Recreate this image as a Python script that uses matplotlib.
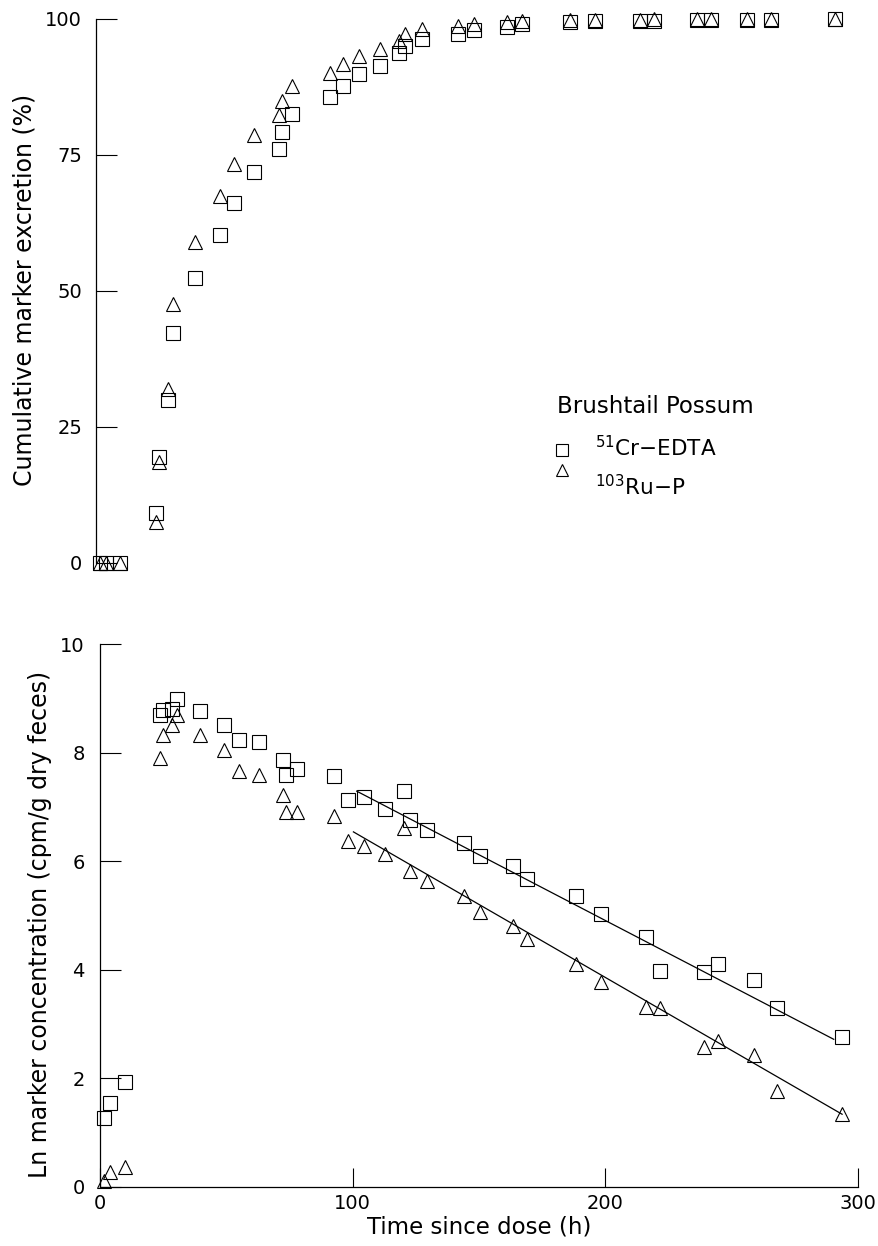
import matplotlib
matplotlib.use('Agg')
import matplotlib.pyplot as plt
import numpy as np

# sampling times (h since dose)
t = [1.7, 3.8, 9.7, 23.9, 24.9, 28.5, 30.4, 39.4, 49.2, 55.0, 62.9, 72.6, 73.8, 77.8,
     92.8, 98.1, 104.5, 112.8, 120.5, 122.6, 129.5, 143.9, 150.2, 163.4, 169.1, 188.4,
     198.2, 216.2, 221.8, 238.9, 244.4, 258.7, 268.1, 293.5]

# cumulative excretion (%)
cr_cum = [0, 0, 0, 9.2, 19.4, 30.0, 42.3, 52.4, 60.3, 66.2, 71.8, 76.1, 79.2, 82.6,
          85.7, 87.7, 89.8, 91.4, 93.7, 95.1, 96.3, 97.2, 97.9, 98.6, 99.0, 99.5,
          99.6, 99.7, 99.7, 99.8, 99.8, 99.9, 99.9, 100.0]
ru_cum = [0, 0, 0, 7.5, 18.5, 31.9, 47.7, 59.0, 67.5, 73.3, 78.7, 82.3, 84.9, 87.7,
          90.1, 91.8, 93.2, 94.4, 96.0, 97.2, 98.1, 98.8, 99.0, 99.5, 99.7, 99.8,
          99.9, 99.9, 100.0, 100.0, 100.0, 100.0, 100.0, 100.0]

# ln concentration (cpm/g dry feces)
cr_ln = [1.27, 1.55, 1.93, 8.70, 8.78, 8.80, 8.98, 8.76, 8.51, 8.23, 8.19, 7.87, 7.59, 7.70,
         7.57, 7.12, 7.18, 6.97, 7.30, 6.75, 6.58, 6.33, 6.10, 5.91, 5.67, 5.36,
         5.02, 4.60, 3.98, 3.96, 4.11, 3.81, 3.29, 2.76]
ru_ln = [0.11, 0.27, 0.37, 7.90, 8.32, 8.51, 8.69, 8.32, 8.05, 7.67, 7.58, 7.22, 6.90, 6.90,
         6.83, 6.37, 6.28, 6.13, 6.61, 5.82, 5.63, 5.36, 5.06, 4.81, 4.56, 4.11,
         3.78, 3.32, 3.29, 2.57, 2.68, 2.43, 1.77, 1.34]

# fitted elimination lines
cr_fit_t = [101.6, 290.4]
cr_fit_y = [7.29, 2.72]
ru_fit_t = [100.3, 293.7]
ru_fit_y = [6.54, 1.34]

plt.rcParams['font.family'] = 'DejaVu Sans'
plt.rcParams['mathtext.fontset'] = 'dejavusans'

W, H = 879, 1246
fig = plt.figure(figsize=(W / 100, H / 100), dpi=100)

sq = dict(marker='s', ms=9.5, mfc='none', mec='black', mew=0.8, ls='none', clip_on=False)
tri = dict(marker='^', ms=10.5, mfc='none', mec='black', mew=0.8, ls='none', clip_on=False)

# ---- top panel
ax1 = fig.add_axes([96 / W, 1 - 563 / H, 755 / W, 544 / H])
ax1.plot(t, cr_cum, **sq)
ax1.plot(t, ru_cum, **tri)
ax1.set_xlim(0, 300)
ax1.set_ylim(0, 100)
for s in ['top', 'right', 'bottom']:
    ax1.spines[s].set_visible(False)
ax1.spines['left'].set_linewidth(0.9)
ax1.set_xticks([])
ax1.set_yticks([0, 25, 50, 75, 100])
ax1.tick_params(axis='y', direction='in', length=15, width=0.8, pad=10, labelsize=14)

# legend
ax1.text(0.611, 0.275, 'Brushtail Possum', transform=ax1.transAxes, fontsize=16.5,
         va='baseline', ha='left')
ax1.plot([0.617], [0.208], transform=ax1.transAxes, **dict(sq, ms=8))
ax1.plot([0.617], [0.171], transform=ax1.transAxes, **dict(tri, ms=9))
ax1.text(0.661, 0.197, r'$^{51}$Cr$-$EDTA', transform=ax1.transAxes, fontsize=15.5,
         va='baseline', ha='left')
ax1.text(0.661, 0.125, r'$^{103}$Ru$-$P', transform=ax1.transAxes, fontsize=15.5,
         va='baseline', ha='left')

fig.text(25 / W, 1 - 290 / H, 'Cumulative marker excretion (%)', rotation=90,
         ha='center', va='center', fontsize=17)

# ---- bottom panel
ax2 = fig.add_axes([100 / W, 1 - 1187 / H, 758 / W, 543 / H])
ax2.plot(t, cr_ln, **sq)
ax2.plot(t, ru_ln, **tri)
ax2.plot(cr_fit_t, cr_fit_y, color='black', lw=0.9)
ax2.plot(ru_fit_t, ru_fit_y, color='black', lw=0.9)
ax2.set_xlim(0, 300)
ax2.set_ylim(0, 10)
ax2.spines['top'].set_visible(False)
ax2.spines['right'].set_visible(False)
ax2.spines['left'].set_linewidth(0.9)
ax2.spines['bottom'].set_linewidth(0.9)
ax2.set_xticks([0, 100, 200, 300])
ax2.set_yticks([0, 2, 4, 6, 8, 10])
ax2.tick_params(axis='y', direction='in', length=15, width=0.8, pad=11, labelsize=14)
ax2.tick_params(axis='x', direction='in', length=14, width=0.8, pad=5, labelsize=14)
ax2.set_xlabel('Time since dose (h)', fontsize=16.5, labelpad=2)

fig.text(40 / W, 1 - 924 / H, 'Ln marker concentration (cpm/g dry feces)', rotation=90,
         ha='center', va='center', fontsize=17)

fig.savefig('out.png', dpi=100, facecolor='white')
